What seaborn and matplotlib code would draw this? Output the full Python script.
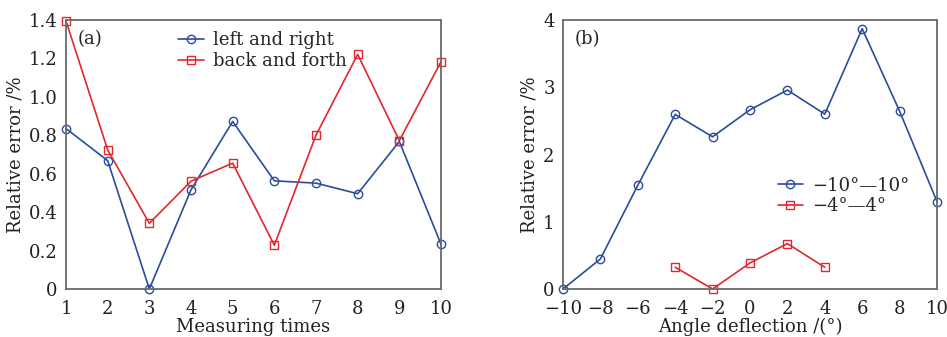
import matplotlib
matplotlib.use("Agg")
import matplotlib.pyplot as plt
import seaborn as sns
import pandas as pd

# ---- data ----
times = [1, 2, 3, 4, 5, 6, 7, 8, 9, 10]
left_right = [0.835, 0.668, 0.0, 0.516, 0.872, 0.563, 0.551, 0.496, 0.768, 0.233]
back_forth = [1.395, 0.724, 0.342, 0.561, 0.655, 0.228, 0.801, 1.221, 0.772, 1.183]

angles_wide = [-10, -8, -6, -4, -2, 0, 2, 4, 6, 8, 10]
err_wide = [0.0, 0.447, 1.543, 2.596, 2.263, 2.665, 2.958, 2.60, 3.871, 2.645, 1.30]
angles_narrow = [-4, -2, 0, 2, 4]
err_narrow = [0.323, 0.0, 0.387, 0.675, 0.323]

labels_a = ["left and right", "back and forth"]
labels_b = ["\u221210\u00b0\u201410\u00b0", "\u22124\u00b0\u20144\u00b0"]

BLUE = "#2A4C9A"
RED = "#E0282E"

sns.set_theme(style="white")
plt.rcParams["font.family"] = ["DejaVu Serif"]
plt.rcParams["mathtext.fontset"] = "dejavuserif"
FS = 13

fig = plt.figure(figsize=(9.47, 3.37), dpi=100)
W, H = 947, 337
axa = fig.add_axes([66 / W, (H - 289) / H, (441 - 66) / W, (289 - 20) / H])
axb = fig.add_axes([563 / W, (H - 289) / H, (937 - 563) / W, (289 - 20) / H])

def style_axes(ax):
    for s in ax.spines.values():
        s.set_color("#6a6a6a")
        s.set_linewidth(1.3)
    ax.tick_params(direction="in", length=3, width=1, colors="#6a6a6a",
                   labelcolor="#222222", labelsize=FS)
    ax.tick_params(axis="x", pad=8)
    ax.tick_params(axis="y", pad=6)

mk = dict(markerfacecolor="none", markersize=6, markeredgewidth=1.0, linewidth=1.2)

dfa1 = pd.DataFrame({"x": times, "y": left_right})
dfa2 = pd.DataFrame({"x": times, "y": back_forth})
sns.lineplot(data=dfa1, x="x", y="y", ax=axa, color=BLUE, marker="o",
             markeredgecolor=BLUE, label=labels_a[0], **mk)
sns.lineplot(data=dfa2, x="x", y="y", ax=axa, color=RED, marker="s",
             markeredgecolor=RED, label=labels_a[1], **mk)
axa.set_xlim(1, 10)
axa.set_ylim(0, 1.4)
axa.set_xticks(times)
axa.set_yticks([0, 0.2, 0.4, 0.6, 0.8, 1.0, 1.2, 1.4])
axa.set_yticklabels(["0", "0.2", "0.4", "0.6", "0.8", "1.0", "1.2", "1.4"])
axa.set_xlabel("Measuring times", fontsize=FS, labelpad=0, color="#222222")
axa.set_ylabel("Relative error /%", fontsize=FS, labelpad=3, color="#222222")
axa.text(0.03, 0.93, "(a)", transform=axa.transAxes, fontsize=FS, va="center", color="#222222")
axa.legend(loc="upper left", bbox_to_anchor=(0.28, 0.985), frameon=False, fontsize=FS,
           handlelength=1.4, handletextpad=0.5, labelspacing=0.15, borderaxespad=0)
style_axes(axa)

dfb1 = pd.DataFrame({"x": angles_wide, "y": err_wide})
dfb2 = pd.DataFrame({"x": angles_narrow, "y": err_narrow})
sns.lineplot(data=dfb1, x="x", y="y", ax=axb, color=BLUE, marker="o",
             markeredgecolor=BLUE, label=labels_b[0], **mk)
sns.lineplot(data=dfb2, x="x", y="y", ax=axb, color=RED, marker="s",
             markeredgecolor=RED, label=labels_b[1], **mk)
axb.set_xlim(-10, 10)
axb.set_ylim(0, 4)
axb.set_xticks(angles_wide)
axb.set_yticks([0, 1, 2, 3, 4])
axb.set_xlabel("Angle deflection /(\u00b0)", fontsize=FS, labelpad=0, color="#222222")
axb.set_ylabel("Relative error /%", fontsize=FS, labelpad=3, color="#222222")
axb.text(0.03, 0.93, "(b)", transform=axb.transAxes, fontsize=FS, va="center", color="#222222")
axb.legend(loc="upper left", bbox_to_anchor=(0.555, 0.445), frameon=False, fontsize=FS,
           handlelength=1.4, handletextpad=0.5, labelspacing=0.15, borderaxespad=0)
style_axes(axb)

for ax in (axa, axb):
    for l in ax.get_lines():
        l.set_clip_on(False)

fig.savefig("out.png", dpi=100)
